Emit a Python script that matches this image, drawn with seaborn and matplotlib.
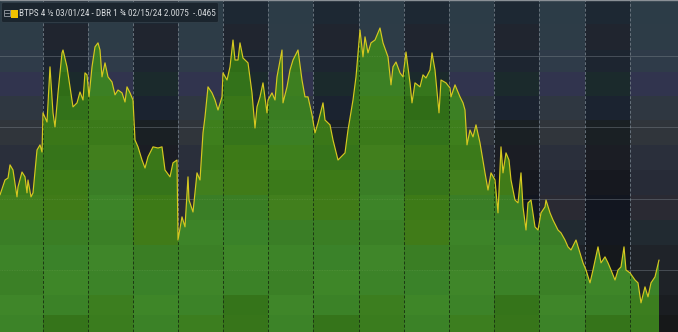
import numpy as np
import matplotlib
matplotlib.use("Agg")
import matplotlib.pyplot as plt
import seaborn as sns
from matplotlib.patches import Polygon, FancyBboxPatch, Rectangle
from matplotlib.colors import to_rgb
from matplotlib import font_manager

# ---------------- data ----------------
day = [0, 5, 8, 10, 13, 17, 18, 22, 25, 27, 28, 31, 33, 37, 40, 42, 43, 47, 50, 53,
       55, 58, 62, 63, 67, 70, 73, 77, 80, 83, 85, 87, 89, 92, 95, 98, 100, 102, 105, 108,
       112, 115, 118, 122, 125, 127, 130, 133, 135, 138, 142, 145, 148, 153, 158, 162, 165, 170, 173, 177,
       178, 182, 185, 188, 189, 193, 197, 200, 203, 205, 208, 212, 215, 218, 222, 223, 227, 230, 233, 235,
       238, 240, 243, 248, 252, 255, 257, 260, 263, 267, 268, 272, 275, 277, 282, 283, 287, 290, 293, 298,
       302, 305, 308, 312, 315, 318, 323, 325, 330, 333, 338, 345, 348, 353, 356, 360, 363, 365, 368, 371,
       375, 380, 383, 388, 391, 393, 396, 400, 403, 406, 410, 412, 415, 420, 423, 426, 430, 432, 435, 439,
       441, 446, 450, 451, 455, 460, 463, 465, 467, 470, 473, 476, 480, 485, 488, 491, 495, 498, 501, 503,
       506, 509, 511, 515, 518, 521, 523, 526, 528, 531, 535, 538, 541, 545, 546, 550, 553, 558, 561, 565,
       568, 571, 576, 580, 583, 586, 590, 593, 598, 601, 605, 608, 611, 615, 618, 621, 624, 626, 630, 635,
       638, 641, 645, 648, 651, 655, 659]
spread = [2.263, 2.315, 2.322, 2.368, 2.350, 2.256, 2.291, 2.343, 2.326, 2.270, 2.315, 2.256, 2.270, 2.420, 2.438, 2.413, 2.550, 2.518, 2.711, 2.550,
          2.501, 2.620, 2.760, 2.770, 2.711, 2.641, 2.571, 2.585, 2.623, 2.595, 2.690, 2.683, 2.606, 2.711, 2.781, 2.795, 2.770, 2.676, 2.725, 2.676,
          2.658, 2.613, 2.630, 2.620, 2.588, 2.641, 2.620, 2.595, 2.455, 2.431, 2.385, 2.357, 2.396, 2.431, 2.427, 2.431, 2.350, 2.326, 2.375, 2.385,
          2.105, 2.186, 2.151, 2.326, 2.245, 2.203, 2.340, 2.315, 2.480, 2.536, 2.641, 2.620, 2.595, 2.560, 2.606, 2.690, 2.665, 2.711, 2.805, 2.735,
          2.735, 2.795, 2.742, 2.725, 2.620, 2.497, 2.571, 2.606, 2.655, 2.550, 2.595, 2.620, 2.595, 2.676, 2.770, 2.585, 2.641, 2.700, 2.735, 2.770,
          2.665, 2.606, 2.606, 2.543, 2.480, 2.515, 2.585, 2.525, 2.508, 2.455, 2.385, 2.410, 2.490, 2.595, 2.676, 2.840, 2.746, 2.816, 2.760, 2.795,
          2.805, 2.847, 2.795, 2.746, 2.648, 2.711, 2.728, 2.690, 2.676, 2.763, 2.655, 2.585, 2.655, 2.641, 2.683, 2.672, 2.700, 2.760, 2.700, 2.550,
          2.665, 2.655, 2.637, 2.606, 2.648, 2.606, 2.585, 2.560, 2.438, 2.490, 2.466, 2.508, 2.445, 2.340, 2.280, 2.340, 2.315, 2.200, 2.431, 2.340,
          2.410, 2.385, 2.315, 2.245, 2.235, 2.340, 2.221, 2.140, 2.235, 2.245, 2.151, 2.140, 2.200, 2.221, 2.245, 2.200, 2.175, 2.140, 2.130, 2.105,
          2.081, 2.070, 2.105, 2.060, 2.025, 2.000, 1.955, 2.000, 2.081, 2.025, 2.046, 2.025, 2.000, 1.965, 2.000, 2.011, 2.081, 2.000, 1.990, 1.965,
          1.955, 1.885, 1.941, 1.906, 1.955, 1.976, 2.035]
month_starts = [43, 88, 133, 178, 223, 268, 313, 359, 404, 449, 494, 539, 585, 630]
grid_levels = [2.0, 2.25, 2.5, 2.75]
legend_label = "BTPS 4 \u00bd 03/01/24 - DBR 1 \u00be 02/15/24"
last_value = "2.0075"
last_change = "-.0465"

# ---------------- style ----------------
W, H = 678, 332
YMIN, YMAX = 1.783, 2.945
row_edges_px = [0, 24, 50, 72, 96, 120, 145, 170, 195, 220, 245, 270, 295, 315, 332]
bg_light = ['#2c3c47', '#2d3c47', '#2f3b49', '#31344e', '#2f3741', '#30353b', '#2a2f3b',
            '#272b37', '#2a2a33', '#212a31', '#1f2329', '#1e2227', '#1a1d21', '#161819']
bg_dark = ['#1d2833', '#20252f', '#1d2530', '#1b2a2c', '#1b2330', '#1a2024', '#1b1d24',
           '#16181f', '#121620', '#141820', '#15181c', '#141619', '#121416', '#101112']
gr_a = ['#3c7e1f', '#3a7c1e', '#3b7a1c', '#3d7f20', '#3a7d22', '#3c8024', '#3e7f1c',
        '#3b7a1a', '#417f1d', '#3a7e26', '#3d8428', '#3b8026', '#3f8629', '#3c8328']
gr_b = ['#35741a', '#37751a', '#33701a', '#36761c', '#306d17', '#33721a', '#3a7718',
        '#36741a', '#3d7a17', '#407b18', '#3a7e24', '#3a8229', '#3e8628', '#3b8227']

sns.set_theme(style="dark")
installed = {f.name for f in font_manager.fontManager.ttflist}
fams = [f for f in ['Liberation Sans Narrow', 'Roboto Condensed', 'Sofia Sans Semi Condensed']
        if f in installed] + ['DejaVu Sans']
plt.rcParams['font.family'] = fams

fig = plt.figure(figsize=(W / 100, H / 100), dpi=100)
ax = fig.add_axes([0, 0, 1, 1])
ax.set_xlim(0, W)
ax.set_ylim(YMIN, YMAX)
ax.axis('off')

col_edges = [0] + month_starts + [W]
px = np.arange(W) + 0.5
py = np.arange(H) + 0.5
ci = np.searchsorted(col_edges, px, side='right') - 1
ri = np.searchsorted(row_edges_px, py, side='right') - 1


def mosaic(pal_a, pal_b, shift):
    A = np.array([to_rgb(c) for c in pal_a])
    B = np.array([to_rgb(c) for c in pal_b])
    img = np.zeros((H, W, 3))
    for c in range(len(col_edges) - 1):
        m = ci == c
        pal = A if c % 2 == 0 else B
        rows = (ri + (c * shift) % 3) % len(pal) if shift else ri
        img[:, m, :] = pal[rows][:, None, :]
    return img


bg_img = mosaic(bg_light, bg_dark, 0)
ax.imshow(bg_img, extent=(0, W, YMIN, YMAX), aspect='auto', origin='upper', zorder=0,
          interpolation='nearest')

ax.vlines(month_starts, YMIN, YMAX, colors='#66717b', linestyles=(0, (3, 2)), lw=0.7, zorder=1)
ax.hlines(grid_levels, 0, W, colors='#7d868e', linestyles=(0, (1.2, 1.2)), lw=0.6, zorder=1)

verts = [(day[0], YMIN)] + list(zip(day, spread)) + [(day[-1], YMIN)]
poly = Polygon(verts, closed=True, transform=ax.transData, facecolor='none', edgecolor='none')
ax.add_patch(poly)

gr_img = mosaic(gr_a, gr_b, 1)
im = ax.imshow(gr_img, extent=(0, W, YMIN, YMAX), aspect='auto', origin='upper', zorder=2,
               interpolation='nearest')
im.set_clip_path(poly)

vl2 = ax.vlines(month_starts, YMIN, YMAX, colors='#1c3812', linestyles=(0, (3, 2)), lw=0.7, zorder=3)
vl2.set_clip_path(poly)
hl2 = ax.hlines(grid_levels, 0, W, colors='#6aa050', linestyles=(0, (1.2, 1.2)), lw=0.5,
                alpha=0.5, zorder=3)
hl2.set_clip_path(poly)

sns.lineplot(x=day, y=spread, color='#d6c820', lw=0.85, ax=ax, zorder=4)
ax.axhline(YMAX, color='#8a9096', lw=1.0, zorder=5)


def fx(x):
    return x / W


def fy(y):
    return 1 - y / H


box = FancyBboxPatch((fx(1.5), fy(22.5)), fx(217), 20 / H, boxstyle="round,pad=0,rounding_size=0.004",
                     transform=ax.transAxes, facecolor='#1b252e', edgecolor='#33404a', lw=0.6, zorder=6)
ax.add_patch(box)
ax.add_patch(Rectangle((fx(4), fy(16)), fx(6), 6 / H, transform=ax.transAxes, facecolor='none',
                       edgecolor='#9aa0a6', lw=0.6, zorder=7))
ax.plot([fx(5.2), fx(8.8)], [fy(13), fy(13)], transform=ax.transAxes, color='#9aa0a6', lw=0.6, zorder=7)
ax.add_patch(Rectangle((fx(11), fy(17.5)), fx(7), 8 / H, transform=ax.transAxes, facecolor='#f2c200',
                       edgecolor='none', zorder=7))
txt = ax.text(fx(19), fy(13), f"{legend_label} {last_value}  {last_change}", transform=ax.transAxes,
              ha='left', va='center', fontsize=7.6, color='#d6dadd', zorder=8)

# fit legend text to the reference width (~195 px)
fig.canvas.draw()
wpx = txt.get_window_extent(fig.canvas.get_renderer()).width
if wpx > 0:
    txt.set_fontsize(min(8.0, 7.6 * 195.0 / wpx))

fig.savefig("out.png", dpi=100)
